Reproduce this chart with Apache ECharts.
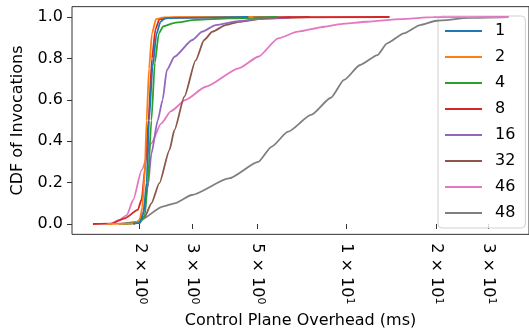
<!DOCTYPE html>
<html>
<head>
<meta charset="utf-8">
<script src="https://cdn.jsdelivr.net/npm/echarts@6/dist/echarts.min.js"></script>
<style>
  html, body { margin: 0; padding: 0; background: #fff; }
  #chart { width: 529px; height: 335px; }
</style>
</head>
<body>
<div id="chart"></div>
<script>
// [ms, cdf] pairs
const s1 = [[1.90, 0], [2.0, 0.005], [2.06, 0.05], [2.11, 0.2], [2.15, 0.5], [2.21, 0.76], [2.28, 0.92], [2.35, 0.977], [2.44, 0.995], [4.66, 1.0]];
const s2 = [[1.55, 0], [1.92, 0.003], [2.0, 0.02], [2.04, 0.08], [2.08, 0.25], [2.11, 0.5], [2.15, 0.75], [2.20, 0.92], [2.27, 0.99], [2.4, 0.998], [4.84, 1.0]];
const s4 = [[1.75, 0], [2.0, 0.005], [2.08, 0.04], [2.13, 0.2], [2.19, 0.5], [2.25, 0.78], [2.32, 0.92], [2.40, 0.955], [2.62, 0.972], [3.09, 0.986], [4.0, 0.994], [5.87, 1.0]];
const s8 = [[1.39, 0], [1.6, 0.002], [1.78, 0.027], [1.97, 0.068], [2.03, 0.12], [2.09, 0.28], [2.14, 0.5], [2.20, 0.8], [2.26, 0.94], [2.33, 0.99], [2.6, 0.998], [13.97, 1.0]];
const s16 = [[1.70, 0], [1.98, 0.01], [2.05, 0.053], [2.13, 0.18], [2.19, 0.34], [2.30, 0.5], [2.39, 0.6], [2.47, 0.744], [2.62, 0.808], [3.01, 0.889], [3.25, 0.929], [3.61, 0.961], [4.32, 0.98], [5.0, 0.99], [6.5, 1.0]];
const s32 = [[1.80, 0], [1.98, 0.01], [2.08, 0.035], [2.19, 0.10], [2.33, 0.197], [2.52, 0.357], [2.62, 0.454], [2.83, 0.615], [3.09, 0.79], [3.30, 0.889], [3.52, 0.929], [3.90, 0.961], [4.32, 0.977], [5.30, 0.994], [7.5, 1.0]];
const s46 = [[1.60, 0], [1.71, 0.02], [1.81, 0.043], [1.90, 0.116], [2.03, 0.26], [2.19, 0.39], [2.36, 0.485], [2.55, 0.545], [2.86, 0.60], [3.34, 0.663], [4.32, 0.752], [5.03, 0.808], [5.87, 0.897], [6.84, 0.929], [8.41, 0.953], [9.55, 0.966], [11.7, 0.977], [15.2, 0.99], [19.6, 0.999], [35.2, 1.0]];
const s48 = [[1.85, 0], [1.95, 0.005], [2.0, 0.016], [2.39, 0.084], [2.62, 0.10], [3.0, 0.14], [4.0, 0.22], [5.03, 0.30], [5.57, 0.373], [6.34, 0.446], [7.58, 0.527], [8.85, 0.61], [9.80, 0.696], [11.1, 0.768], [12.7, 0.816], [13.7, 0.873], [15.6, 0.921], [17.7, 0.961], [20.1, 0.982], [26, 0.996], [35.2, 1.0]];

const seriesNames = ['1', '2', '4', '8', '16', '32', '46', '48'];
const seriesData = [s1, s2, s4, s8, s16, s32, s46, s48];
const colors = ['#1f77b4', '#ff7f0e', '#2ca02c', '#d62728', '#9467bd', '#8c564b', '#e377c2', '#7f7f7f'];

const xTicks = [2, 3, 5, 10, 20, 30];
const xTickMant = ['2', '3', '5', '1', '2', '3'];
const xTickExp = ['0', '0', '0', '1', '1', '1'];
const yTicks = [0, 0.2, 0.4, 0.6, 0.8, 1.0];

const font = 'DejaVu Sans';
const chart = echarts.init(document.getElementById('chart'));

chart.setOption({
    animation: false,
    grid: {
        left: 72, top: 6.65, bottom: 100.65, right: -5,
        show: true, borderColor: '#333', borderWidth: 1
    },
    legend: {
        orient: 'vertical',
        left: 438, top: 16,
        padding: [7, 10, 7, 6],
        itemWidth: 37, itemHeight: 16, itemGap: 10,
        backgroundColor: 'rgba(255,255,255,0.8)',
        borderColor: '#d0d0d0', borderWidth: 1, borderRadius: 4,
        itemStyle: { opacity: 0 },
        lineStyle: { width: 2 },
        textStyle: { fontFamily: font, fontSize: 16, color: '#000', padding: [0, 0, 0, 8] },
        data: seriesNames
    },
    xAxis: {
        type: 'value',
        min: Math.log10(1.181), max: 1.616,
        name: 'Control Plane Overhead (ms)',
        nameLocation: 'middle', nameGap: 76,
        nameTextStyle: { fontFamily: font, fontSize: 16, color: '#000' },
        splitLine: { show: false },
        axisLine: { show: false },
        axisTick: {
            show: true, length: 5, lineStyle: { color: '#333' },
            customValues: xTicks.map(Math.log10)
        },
        axisLabel: {
            customValues: xTicks.map(Math.log10),
            rotate: -90, margin: 9,
            fontFamily: font, fontSize: 16, color: '#000',
            formatter: (v) => {
                let i = 0, best = 1e9;
                xTicks.forEach((t, k) => {
                    const d = Math.abs(Math.log10(t) - v);
                    if (d < best) { best = d; i = k; }
                });
                return '{m|' + xTickMant[i] + ' × 10}{e|' + xTickExp[i] + '}';
            },
            rich: {
                m: { fontFamily: font, fontSize: 16, color: '#000', lineHeight: 18 },
                e: { fontFamily: font, fontSize: 11, color: '#000', verticalAlign: 'top', lineHeight: 18, padding: [0, 0, 6, 0] }
            }
        }
    },
    yAxis: {
        type: 'value',
        min: -0.05, max: 1.05,
        name: 'CDF of Invocations',
        nameLocation: 'middle', nameGap: 46,
        nameTextStyle: { fontFamily: font, fontSize: 16, color: '#000' },
        splitLine: { show: false },
        axisLine: { show: false },
        axisTick: {
            show: true, length: 5, lineStyle: { color: '#333' },
            customValues: yTicks
        },
        axisLabel: {
            customValues: yTicks,
            margin: 9,
            fontFamily: font, fontSize: 16, color: '#000',
            formatter: (v) => v.toFixed(1)
        }
    },
    // first series drawn on top, as in the reference
    series: seriesData.map((d, i) => ({
        name: seriesNames[i],
        type: 'line',
        z: 20 - i,
        data: d.map(p => [Math.log10(p[0]), p[1]]),
        symbol: 'none',
        smooth: 0.2,
        smoothMonotone: 'x',
        color: colors[i],
        lineStyle: { width: 1.8, color: colors[i] }
    }))
});
</script>
</body>
</html>
